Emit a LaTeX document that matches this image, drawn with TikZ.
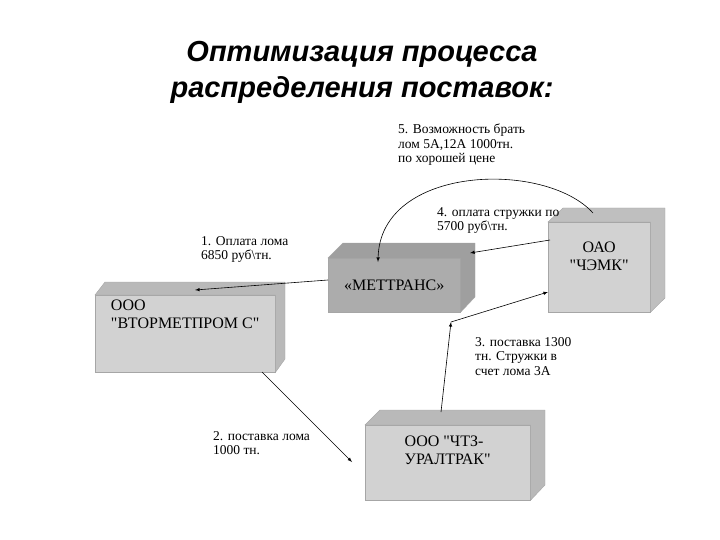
\documentclass[tikz,border=0pt]{standalone}
\usepackage{fontspec}
\setmainfont{Liberation Serif}[Ligatures=TeXOff]
\newfontfamily\titlefont{Liberation Sans}
\begin{document}
\begin{tikzpicture}[x=1pt,y=-1pt,
  box/.style={draw=gray!70,fill=gray!35,inner sep=3pt,align=left,font=\fontsize{16}{18}\selectfont,anchor=north west},
  lbl/.style={align=left,font=\fontsize{13.5}{14.5}\selectfont,anchor=north west,inner sep=0pt},
  arr/.style={-latex,line width=0.6pt}]
\useasboundingbox (0,0) rectangle (720,540);
\node[font=\titlefont\bfseries\itshape\fontsize{29}{36}\selectfont,align=center] (t) at (362,72) {Оптимизация процесса\\распределения поставок:};
% Vtormetprom
\node[box,minimum width=180pt,minimum height=77pt,text depth=38pt] (v) at (95,295) {ООО\\"ВТОРМЕТПРОМ С"};
\fill[gray!55,draw=gray!70] (v.north west) -- ++(10pt,13pt) -- ++(180pt,0pt) -- ++(0pt,-77pt) -- (v.south east) -- (v.north east) -- cycle;
% Mettrans
\node[box,fill=gray!65,minimum width=132pt,minimum height=54pt,align=center,text width=124pt] (m) at (328,258) {«МЕТТРАНС»};
\fill[gray!75,draw=gray!70] (m.north west) -- ++(15pt,15pt) -- ++(132pt,0pt) -- ++(0pt,-54pt) -- (m.south east) -- (m.north east) -- cycle;
% CHEMK
\node[box,minimum width=102pt,minimum height=90pt,align=center,text width=94pt,text depth=40pt] (c) at (548,222) {ОАО\\"ЧЭМК"};
\fill[gray!50,draw=gray!70] (c.north west) -- ++(15pt,14pt) -- ++(102pt,0pt) -- ++(0pt,-90pt) -- (c.south east) -- (c.north east) -- cycle;
% CHTZ
\node[box,minimum width=165pt,minimum height=75pt,text depth=26pt] (z) at (365,425) {ООО "ЧТЗ-\\УРАЛТРАК"};
\fill[gray!55,draw=gray!70] (z.north west) -- ++(15pt,15pt) -- ++(165pt,0pt) -- ++(0pt,-75pt) -- (z.south east) -- (z.north east) -- cycle;
% arrows
\coordinate (m1) at (328,280);
\coordinate (v1) at (195,290);
\draw[arr] (m1) -- (v1);
\coordinate (v2) at (262,372);
\coordinate (z2) at (352,462);
\draw[arr] (v2) -- (z2);
\coordinate (z3) at (441,412);
\coordinate (k3) at (451,322);
\coordinate (c3) at (548,292);
\draw[arr] (z3) -- (k3);
\draw[arr] (k3) -- (c3);
\coordinate (c4) at (550,240);
\coordinate (m4) at (470,253);
\draw[arr] (c4) -- (m4);
\coordinate (c5) at (593,213);
\coordinate (m5) at (378,262);
\draw[arr] (c5) .. controls (545,160) and (380,165) .. (m5);
% labels
\node[lbl] (l1) at (201,236) {1. Оплата лома\\6850 руб\textbackslash тн.};
\node[lbl] (l2) at (213,431) {2. поставка лома\\1000 тн.};
\node[lbl] (l3) at (475,337) {3. поставка 1300\\тн. Стружки в\\счет лома 3А};
\node[lbl] (l4) at (437,207) {4. оплата стружки по\\5700 руб\textbackslash тн.};
\node[lbl] (l5) at (398,124) {5. Возможность брать\\лом 5А,12А 1000тн.\\по хорошей цене};
\end{tikzpicture}
\end{document}
